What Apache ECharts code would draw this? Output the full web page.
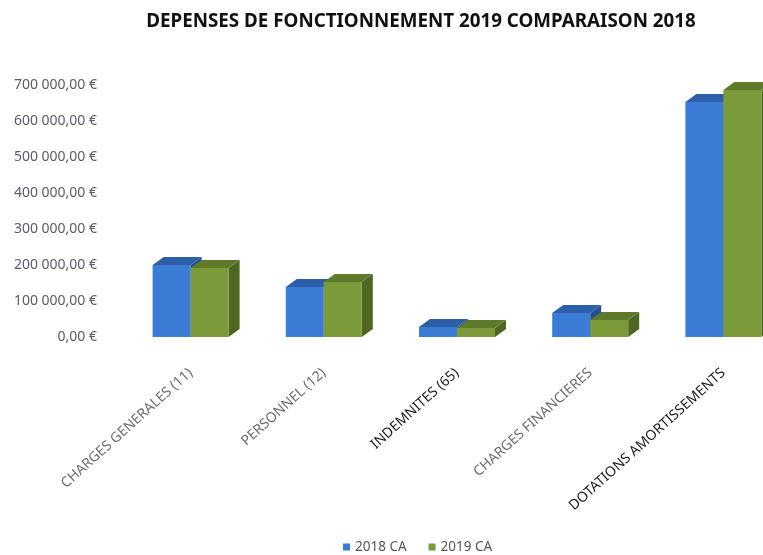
<!DOCTYPE html>
<html lang="fr">
<head>
    <meta charset="UTF-8">
    <title>Dépenses de fonctionnement 2019 comparaison 2018</title>
    <script src="https://cdn.jsdelivr.net/npm/echarts@6.0.0/dist/echarts.min.js"></script>
    <style>
        html, body { margin: 0; padding: 0; background: #fff; }
    </style>
</head>
<body>
    <div id="main" style="width: 763px;height:555px;"></div>
    <script type="text/javascript">
        var categories = ['CHARGES GENERALES (11)', 'PERSONNEL (12)', 'INDEMNITES (65)', 'CHARGES FINANCIERES', 'DOTATIONS AMORTISSEMENTS'];
        var ca2018 = [200000, 139000, 28000, 67000, 653000];
        var ca2019 = [192000, 153000, 25000, 47000, 686000];
        var yTicks = [0, 100000, 200000, 300000, 400000, 500000, 600000, 700000];

        // front / top / side colours for each year
        var faces = [
            { front: '#3b7dd6', top: '#2d5ea8', side: '#24508f' },
            { front: '#7b9a3a', top: '#5e7a2b', side: '#4d6622' }
        ];
        var barW = 38, depthX = 11, depthY = 8;

        function euro(v) {
            return String(v).replace(/\B(?=(\d{3})+(?!\d))/g, ' ') + ',00 €';
        }

        function renderBox(params, api) {
            var idx = api.value(0);
            var base = api.coord([idx, 0]);
            var top = api.coord([idx, api.value(1)]);
            var x0 = base[0] + (params.seriesIndex === 0 ? -barW : 0);
            var x1 = x0 + barW;
            var yb = base[1], yt = top[1];
            var c = faces[params.seriesIndex];
            return {
                type: 'group',
                children: [
                    {
                        type: 'polygon',
                        shape: { points: [[x1, yb], [x1 + depthX, yb - depthY], [x1 + depthX, yt - depthY], [x1, yt]] },
                        style: { fill: c.side }
                    },
                    {
                        type: 'polygon',
                        shape: { points: [[x0, yt], [x0 + depthX, yt - depthY], [x1 + depthX, yt - depthY], [x1, yt]] },
                        style: { fill: c.top }
                    },
                    {
                        type: 'rect',
                        shape: { x: x0, y: yt, width: barW, height: yb - yt },
                        style: { fill: c.front }
                    }
                ]
            };
        }

        var myChart = echarts.init(document.getElementById('main'));
        var option = {
            animation: false,
            title: {
                text: 'DEPENSES DE FONCTIONNEMENT 2019 COMPARAISON 2018',
                left: 416,
                top: 7,
                textAlign: 'center',
                textStyle: { fontFamily: 'Noto Sans', fontSize: 18.8, fontWeight: 'bold', color: '#111' }
            },
            legend: {
                top: 535,
                left: 338,
                itemWidth: 7,
                itemHeight: 7,
                itemGap: 22,
                icon: 'rect',
                textStyle: { fontFamily: 'Noto Sans', fontSize: 13.5, color: '#555' },
                data: ['2018 CA', '2019 CA']
            },
            grid: { left: 124, width: 666, top: 85, height: 252, outerBoundsMode: 'none' },
            xAxis: {
                type: 'category',
                data: categories,
                axisLine: { show: false },
                axisTick: { show: false },
                axisLabel: {
                    interval: 0,
                    rotate: 42,
                    margin: 34,
                    fontFamily: 'Noto Sans',
                    fontSize: 14,
                    color: function (value, index) {
                        return (index === 2 || index === 4) ? '#1a1a1a' : '#6a6a7c';
                    }
                }
            },
            yAxis: {
                type: 'value',
                min: yTicks[0],
                max: yTicks[yTicks.length - 1],
                interval: yTicks[1] - yTicks[0],
                axisLine: { show: false },
                axisTick: { show: false },
                splitLine: { show: false },
                axisLabel: {
                    margin: 27,
                    fontFamily: 'Noto Sans',
                    fontSize: 14,
                    color: '#5b5b6e',
                    formatter: euro
                }
            },
            series: [
                {
                    name: '2018 CA',
                    type: 'custom',
                    renderItem: renderBox,
                    itemStyle: { color: faces[0].front },
                    encode: { x: 0, y: 1 },
                    data: ca2018.map(function (v, i) { return [i, v]; })
                },
                {
                    name: '2019 CA',
                    type: 'custom',
                    renderItem: renderBox,
                    itemStyle: { color: faces[1].front },
                    encode: { x: 0, y: 1 },
                    data: ca2019.map(function (v, i) { return [i, v]; })
                }
            ]
        };
        myChart.setOption(option);
    </script>
</body>
</html>
